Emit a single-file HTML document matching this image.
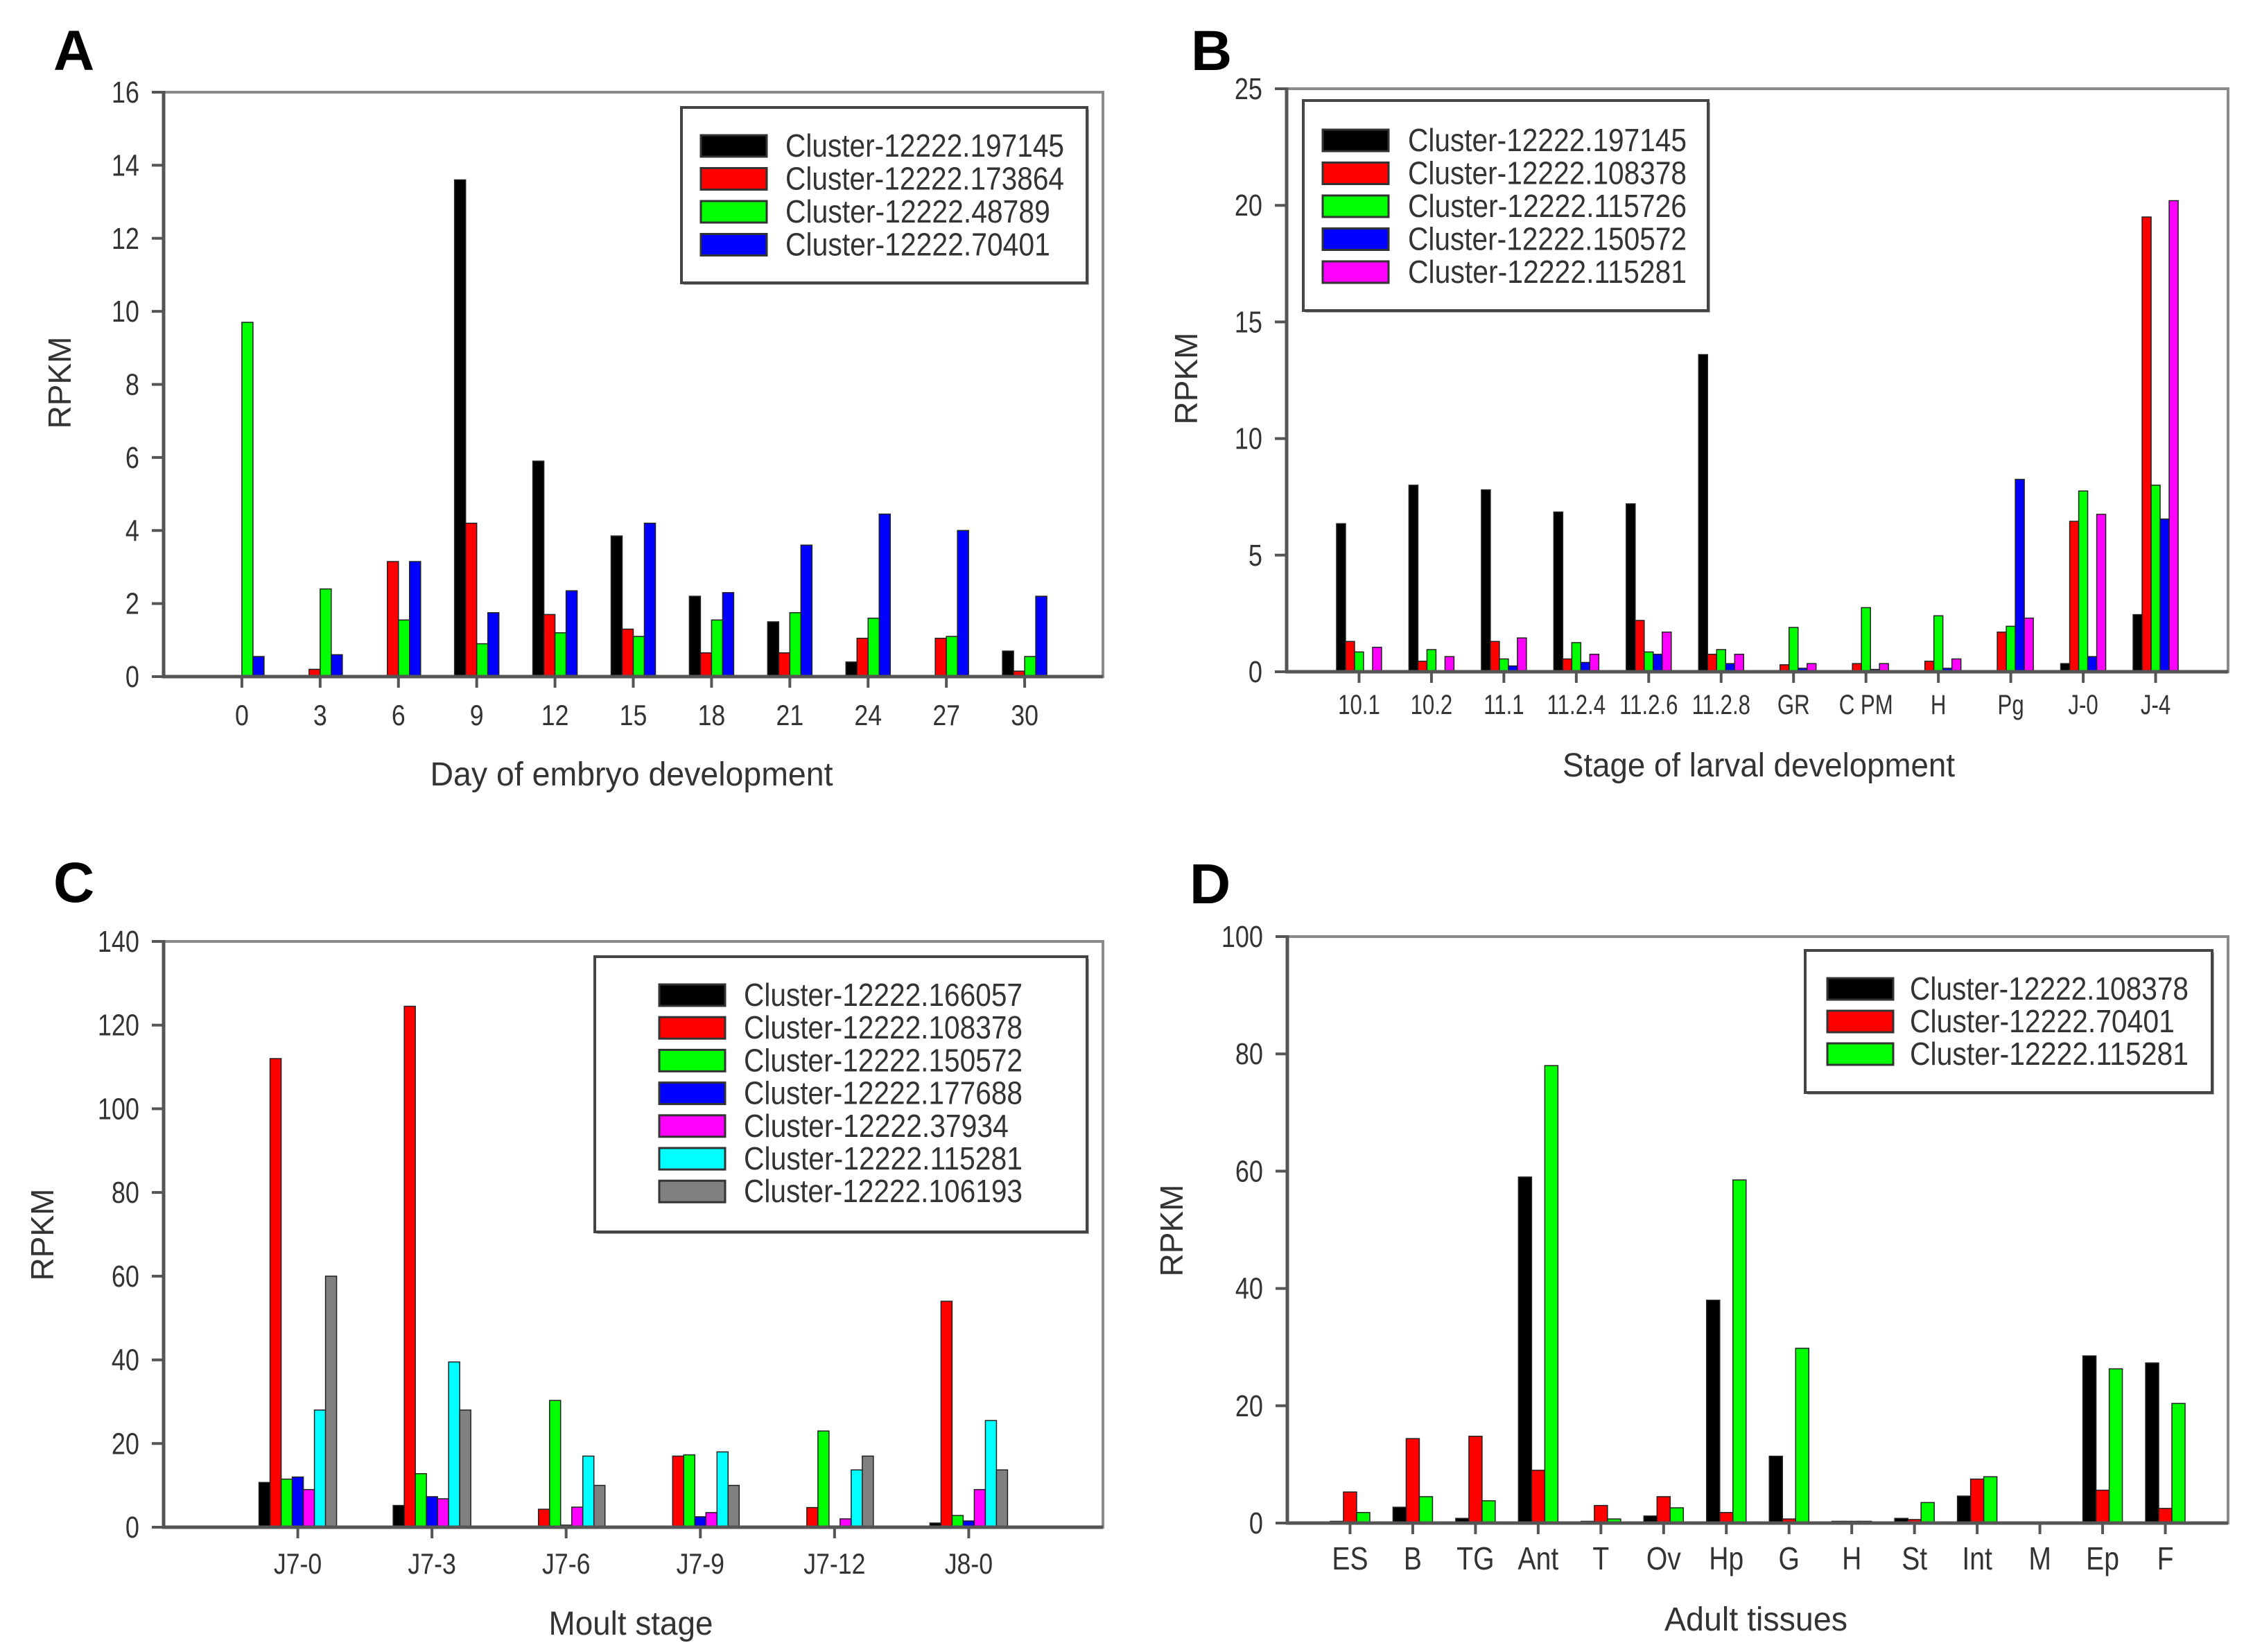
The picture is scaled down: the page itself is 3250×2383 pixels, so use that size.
<!DOCTYPE html>
<html><head><meta charset="utf-8"><style>
html,body{margin:0;padding:0;background:#fff;}
svg{display:block;font-family:"Liberation Sans",sans-serif;}
</style></head><body>
<svg id="fig" width="3250" height="2383" viewBox="0 0 3250 2383" xmlns="http://www.w3.org/2000/svg">
<rect width="3250" height="2383" fill="#fff"/>
</svg>
<script>
// ---- Panel A data ----
const aCats = ['0','3','6','9','12','15','18','21','24','27','30'];
const aTicks = [0,2,4,6,8,10,12,14,16];
const aNames = ['Cluster-12222.197145','Cluster-12222.173864','Cluster-12222.48789','Cluster-12222.70401'];
const aS1 = [0,0,0,13.6,5.9,3.85,2.2,1.5,0.4,0,0.7];
const aS2 = [0,0.2,3.15,4.2,1.7,1.3,0.65,0.65,1.05,1.05,0.15];
const aS3 = [9.7,2.4,1.55,0.9,1.2,1.1,1.55,1.75,1.6,1.1,0.55];
const aS4 = [0.55,0.6,3.15,1.75,2.35,4.2,2.3,3.6,4.45,4.0,2.2];
// ---- Panel B data ----
const bCats = ['10.1','10.2','11.1','11.2.4','11.2.6','11.2.8','GR','C PM','H','Pg','J-0','J-4'];
const bTicks = [0,5,10,15,20,25];
const bNames = ['Cluster-12222.197145','Cluster-12222.108378','Cluster-12222.115726','Cluster-12222.150572','Cluster-12222.115281'];
const bS1 = [6.35,8.0,7.8,6.85,7.2,13.6,0,0,0,0,0.35,2.45];
const bS2 = [1.3,0.45,1.3,0.55,2.2,0.75,0.3,0.35,0.45,1.7,6.45,19.5];
const bS3 = [0.85,0.95,0.55,1.25,0.85,0.95,1.9,2.75,2.4,1.95,7.75,8.0];
const bS4 = [0,0,0.25,0.4,0.75,0.35,0.15,0.1,0.15,8.25,0.65,6.55];
const bS5 = [1.05,0.65,1.45,0.75,1.7,0.75,0.35,0.35,0.55,2.3,6.75,20.2];
// ---- Panel C data ----
const cCats = ['J7-0','J7-3','J7-6','J7-9','J7-12','J8-0'];
const cTicks = [0,20,40,60,80,100,120,140];
const cNames = ['Cluster-12222.166057','Cluster-12222.108378','Cluster-12222.150572','Cluster-12222.177688','Cluster-12222.37934','Cluster-12222.115281','Cluster-12222.106193'];
const cS1 = [10.7,5.2,0,0,0,1];
const cS2 = [112,124.5,4.3,17,4.7,54];
const cS3 = [11.5,12.8,30.3,17.3,23,2.8];
const cS4 = [12,7.3,0.5,2.5,0.3,1.5];
const cS5 = [9,6.8,4.8,3.5,2,9];
const cS6 = [28,39.5,17,18,13.7,25.5];
const cS7 = [60,28,10,10,17,13.7];
// ---- Panel D data ----
const dCats = ['ES','B','TG','Ant','T','Ov','Hp','G','H','St','Int','M','Ep','F'];
const dTicks = [0,20,40,60,80,100];
const dNames = ['Cluster-12222.108378','Cluster-12222.70401','Cluster-12222.115281'];
const dS1 = [0.3,2.7,0.8,59,0.3,1.2,38,11.4,0.3,0.8,4.6,0,28.5,27.3];
const dS2 = [5.3,14.4,14.8,9,3,4.5,1.8,0.7,0.3,0.6,7.5,0,5.6,2.5];
const dS3 = [1.8,4.5,3.8,78,0.7,2.6,58.5,29.8,0.3,3.5,7.9,0,26.3,20.4];

const NS='http://www.w3.org/2000/svg';
const svg=document.getElementById('fig');
function mk(tag,attrs,parent){const e=document.createElementNS(NS,tag);for(const k in attrs)e.setAttribute(k,attrs[k]);(parent||svg).appendChild(e);return e;}

function panel(cfg){
  const g=mk('g',{});
  
  
  const L=cfg.left,R=cfg.right,T=cfg.top,B=cfg.bottom;
  const n=cfg.cats.length, slot=(R-L)/(n+1);
  const ymax=cfg.ticks[cfg.ticks.length-1];
  const xC=i=>L+(i+1)*slot;
  const yS=v=>B-(v/ymax)*(B-T);
  const fr=mk('rect',{x:L,y:T,width:R-L,height:B-T,fill:'none',stroke:'#8a8a8a','stroke-width':4},g);
  
  
  const ns=cfg.series.length, bw=cfg.bw;
  cfg.series.forEach((s,si)=>{
    s.forEach((v,i)=>{
      if(v<=0)return;
      const x=xC(i)-ns*bw/2+si*bw;
      const r=mk('rect',{x:x,y:yS(v),width:bw,height:B-yS(v),fill:cfg.colors[si],stroke:'#222','stroke-width':1.5},g);
      
      
    });
  });
  const ax1=mk('line',{x1:L,y1:T-2,x2:L,y2:B+2,stroke:'#555','stroke-width':5},g);
  
  
  const ax2=mk('line',{x1:L-2,y1:B,x2:R,y2:B,stroke:'#555','stroke-width':5},g);
  
  
  cfg.ticks.forEach(t=>{
    const y=yS(t);
    mk('line',{x1:L-17,y1:y,x2:L,y2:y,stroke:'#555','stroke-width':4},g);
    const s=String(t);
    const tx=mk('text',{x:0,y:0,'font-size':44,fill:'#333','text-anchor':'end',transform:`translate(${L-35},${y+15}) scale(0.82,1)`},g);
    tx.textContent=s;
    
    
  });
  cfg.cats.forEach((c,i)=>{
    const x=xC(i);
    mk('line',{x1:x,y1:B,x2:x,y2:B+16,stroke:'#555','stroke-width':4},g);
    const tx=mk('text',{x:0,y:0,'font-size':cfg.xfs,fill:'#333','text-anchor':'middle',transform:`translate(${x},${cfg.xlabY}) scale(${cfg.xsx},1)`},g);
    tx.textContent=c;
    
    
  });
  const xt=mk('text',{x:cfg.xtX,y:cfg.xtY,'font-size':48,fill:'#333','text-anchor':'middle',textLength:cfg.xtW,lengthAdjust:'spacingAndGlyphs'},g);
  xt.textContent=cfg.xtitle;
  
  
  const yt=mk('text',{x:0,y:0,'font-size':46,fill:'#333','text-anchor':'middle',transform:`translate(${cfg.ytX},${cfg.ytY}) rotate(-90)`},g);
  yt.textContent='RPKM';
  
  
  const pl=mk('text',{x:cfg.plX,y:cfg.plY,'font-size':82,'font-weight':'bold',fill:'#000'},g);
  pl.textContent=cfg.id.toUpperCase();
  
  
  const lg=mk('g',{},g);
  
  
  const Lg=cfg.leg;
  mk('rect',{x:Lg.x+3,y:Lg.y+3,width:Lg.w,height:Lg.h,fill:'#aaa'},lg);
  mk('rect',{x:Lg.x,y:Lg.y,width:Lg.w,height:Lg.h,fill:'#fff',stroke:'#444','stroke-width':4},lg);
  cfg.names.forEach((nm,i)=>{
    const cy=Lg.row0+i*Lg.step;
    const e=mk('g',{},lg);
    
    
    mk('rect',{x:Lg.sx,y:cy-15,width:95,height:31,fill:cfg.colors[i],stroke:'#333','stroke-width':3},e);
    const t=mk('text',{x:Lg.tx,y:cy+16,'font-size':46,fill:'#333',textLength:nm.length*20.1,lengthAdjust:'spacingAndGlyphs'},e);
    t.textContent=nm;
  });
}

panel({id:'a',cats:aCats,ticks:aTicks,names:aNames,series:[aS1,aS2,aS3,aS4],
  colors:['#000','#ff0000','#00ff00','#0000ff'],left:236,right:1591,top:133,bottom:976,bw:16,
  xlabY:1046,xfs:42,xsx:0.85,xtitle:'Day of embryo development',xtX:911,xtY:1133,xtW:581,ytX:102,ytY:552,plX:77,plY:101,
  leg:{x:983,y:155,w:585,h:253,row0:210,step:47.5,sx:1011,tx:1133}});
panel({id:'b',cats:bCats,ticks:bTicks,names:bNames,series:[bS1,bS2,bS3,bS4,bS5],
  colors:['#000','#ff0000','#00ff00','#0000ff','#ff00ff'],left:1856,right:3214,top:128,bottom:969,bw:13,
  xlabY:1030,xfs:40,xsx:0.78,xtitle:'Stage of larval development',xtX:2537,xtY:1120,xtW:566,ytX:1727,ytY:546,plX:1718,plY:101,
  leg:{x:1880,y:145,w:584,h:303,row0:202,step:47.5,sx:1908,tx:2031}});
panel({id:'c',cats:cCats,ticks:cTicks,names:cNames,series:[cS1,cS2,cS3,cS4,cS5,cS6,cS7],
  colors:['#000','#ff0000','#00ff00','#0000ff','#ff00ff','#00ffff','#808080'],left:236,right:1591,top:1358,bottom:2203,bw:16,
  xlabY:2270,xfs:42,xsx:0.85,xtitle:'Moult stage',xtX:910,xtY:2358,xtW:237,ytX:77,ytY:1781,plX:77,plY:1301,
  leg:{x:858,y:1380,w:710,h:397,row0:1435,step:47.2,sx:951,tx:1073}});
panel({id:'d',cats:dCats,ticks:dTicks,names:dNames,series:[dS1,dS2,dS3],
  colors:['#000','#ff0000','#00ff00'],left:1857,right:3214,top:1351,bottom:2197,bw:19,
  xlabY:2264,xfs:46,xsx:0.85,xtitle:'Adult tissues',xtX:2533,xtY:2352,xtW:264,ytX:1706,ytY:1775,plX:1716,plY:1303,
  leg:{x:2604,y:1371,w:587,h:205,row0:1426,step:47,sx:2636,tx:2755}});
</script>
</body></html>
